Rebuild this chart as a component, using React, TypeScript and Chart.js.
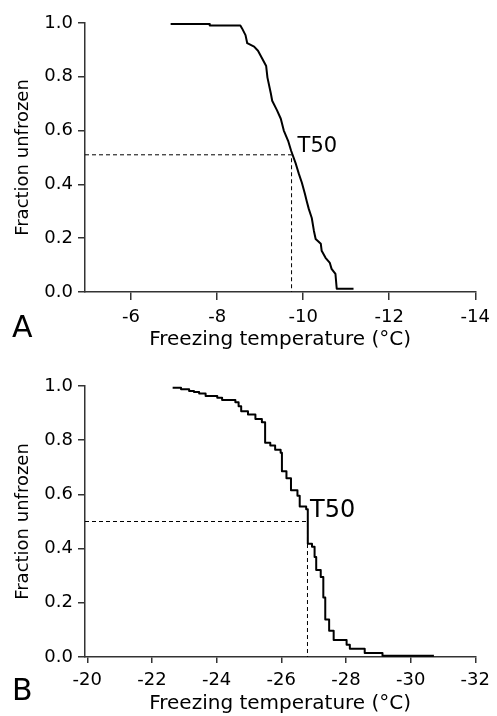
import React, { useEffect, useRef } from "react";
import { Chart, registerables } from "chart.js";

Chart.register(...registerables);

// ---- Data ----
const yTicks = [0, 0.2, 0.4, 0.6, 0.8, 1.0];

// Panel A
const xTicksA = [-6, -8, -10, -12, -14];
const tempA = [
  -6.92, -7.82, -7.83, -8.54, -8.58, -8.66, -8.70, -8.86, -8.95, -9.05, -9.14, -9.17,
  -9.25, -9.28, -9.39, -9.48, -9.55, -9.65, -9.72, -9.83, -9.90, -9.97, -10.04, -10.08,
  -10.13, -10.20, -10.25, -10.29, -10.41, -10.43, -10.52, -10.62, -10.66, -10.75, -10.78, -11.17,
];
const fracA = [
  0.996, 0.996, 0.991, 0.991, 0.98, 0.955, 0.925, 0.912, 0.897, 0.867, 0.84, 0.797,
  0.737, 0.711, 0.676, 0.644, 0.6, 0.562, 0.525, 0.476, 0.439, 0.406, 0.365, 0.339,
  0.309, 0.275, 0.227, 0.197, 0.179, 0.153, 0.127, 0.108, 0.086, 0.067, 0.012, 0.012,
];
const t50TempA = -9.73;
const t50FracA = 0.51;

// Panel B (step positions: temperature where the fraction drops, new level)
const xTicksB = [-20, -22, -24, -26, -28, -30, -32];
const tempB = [
  -22.64, -22.9, -23.15, -23.3, -23.46, -23.66, -24.02, -24.17, -24.58, -24.68, -24.76,
  -24.97, -25.2, -25.4, -25.5, -25.66, -25.81, -25.98, -26.02, -26.16, -26.3, -26.5,
  -26.57, -26.77, -26.82, -26.95, -27.03, -27.08, -27.22, -27.3, -27.36, -27.48, -27.62,
  -28.02, -28.12, -28.58, -29.13, -30.72,
];
const fracB = [
  0.994, 0.988, 0.982, 0.978, 0.972, 0.963, 0.957, 0.948, 0.94, 0.925, 0.907,
  0.895, 0.878, 0.866, 0.791, 0.78, 0.765, 0.754, 0.685, 0.66, 0.615, 0.595,
  0.555, 0.545, 0.418, 0.407, 0.369, 0.321, 0.295, 0.22, 0.138, 0.097, 0.063,
  0.045, 0.03, 0.015, 0.005, 0.005,
];
const t50TempB = -26.81;
const t50FracB = 0.5;

const FONT = "'DejaVu Sans', sans-serif";
const CW = 497;
const CH = 362;

type PanelProps = {
  top: number;
  padTop: number;
  temps: number[];
  fracs: number[];
  stepped: boolean;
  xMin: number;
  xMax: number;
  xTicks: number[];
  t50: number;
  t50Frac: number;
  t50Size: number;
  t50Dx: number;
  t50Dy: number;
  letter: string;
  letterY: number;
  xTickLen: number;
  xTickPad: number;
  xTitlePad: number;
};

function Panel(p: PanelProps) {
  const ref = useRef<HTMLCanvasElement>(null);
  useEffect(() => {
    const canvas = ref.current!;
    const annot = {
      id: "annot" + p.letter,
      afterDraw(chart: any) {
        const ctx = chart.ctx;
        const xs = chart.scales.x;
        const ys = chart.scales.y;
        ctx.save();
        ctx.fillStyle = "#000";
        ctx.textBaseline = "alphabetic";
        ctx.textAlign = "left";
        ctx.font = `${p.t50Size}px ${FONT}`;
        ctx.fillText(
          "T50",
          xs.getPixelForValue(p.t50) + p.t50Dx,
          ys.getPixelForValue(p.t50Frac) + p.t50Dy
        );
        ctx.font = `30px ${FONT}`;
        ctx.fillText(p.letter, 12, p.letterY);
        ctx.restore();
      },
    };
    const chart = new Chart(canvas, {
      type: "line",
      data: {
        datasets: [
          {
            data: p.temps.map((t, i) => ({ x: t, y: p.fracs[i] })),
            borderColor: "#000",
            borderWidth: 2,
            borderJoinStyle: "round",
            pointRadius: 0,
            stepped: p.stepped ? "before" : false,
            tension: 0,
            clip: false,
            fill: false,
          } as any,
          {
            data: [
              { x: p.xMax, y: p.t50Frac },
              { x: p.t50, y: p.t50Frac },
              { x: p.t50, y: 0 },
            ],
            borderColor: "#000",
            borderWidth: 1,
            borderDash: [4, 3],
            pointRadius: 0,
            fill: false,
            clip: false,
          } as any,
        ],
      },
      options: {
        animation: false,
        responsive: false,
        maintainAspectRatio: false,
        events: [],
        layout: { padding: { top: p.padTop, right: 19, left: 0, bottom: 0 } },
        plugins: { legend: { display: false }, tooltip: { enabled: false } },
        scales: {
          x: {
            type: "linear",
            reverse: true,
            min: p.xMin,
            max: p.xMax,
            afterFit: (s: any) => {
              s.height = CH - 292;
            },
            afterBuildTicks: (s: any) => {
              s.ticks = p.xTicks.map((v) => ({ value: v }));
            },
            ticks: {
              font: { family: FONT, size: 18 },
              color: "#000",
              padding: p.xTickPad,
              maxRotation: 0,
              autoSkip: false,
              callback: (v: any) => String(v),
            },
            grid: {
              display: true,
              drawOnChartArea: false,
              drawTicks: true,
              tickLength: p.xTickLen,
              color: "#333",
              lineWidth: 1.5,
            },
            border: { display: true, color: "#333", width: 1.5 },
            title: {
              display: true,
              text: "Freezing temperature (°C)",
              font: { family: FONT, size: 20, lineHeight: 1 },
              color: "#000",
              padding: { top: 0, bottom: p.xTitlePad },
            },
          },
          y: {
            type: "linear",
            min: 0,
            max: 1,
            afterFit: (s: any) => {
              s.width = 85;
            },
            afterBuildTicks: (s: any) => {
              s.ticks = yTicks.map((v) => ({ value: v }));
            },
            ticks: {
              font: { family: FONT, size: 18 },
              color: "#000",
              padding: 5,
              autoSkip: false,
              callback: (v: any) => Number(v).toFixed(1),
            },
            grid: {
              display: true,
              drawOnChartArea: false,
              drawTicks: true,
              tickLength: 7,
              color: "#333",
              lineWidth: 1.5,
            },
            border: { display: true, color: "#333", width: 1.5 },
            title: {
              display: true,
              text: "Fraction unfrozen",
              font: { family: FONT, size: 18, lineHeight: 1 },
              color: "#000",
              padding: { top: 14, bottom: 0 },
            },
          },
        },
      } as any,
      plugins: [annot],
    });
    return () => chart.destroy();
  }, []);
  return (
    <canvas
      ref={ref}
      width={CW}
      height={CH}
      style={{ position: "absolute", left: 0, top: p.top, width: CW, height: CH }}
    />
  );
}

export default function App() {
  return (
    <div
      style={{
        position: "absolute",
        left: 0,
        top: 0,
        width: CW,
        height: 716,
        overflow: "hidden",
        background: "#fff",
      }}
    >
      <Panel
        top={0}
        padTop={23}
        temps={tempA}
        fracs={fracA}
        stepped={false}
        xMin={-14}
        xMax={-4.93}
        xTicks={xTicksA}
        t50={t50TempA}
        t50Frac={t50FracA}
        t50Size={21}
        t50Dx={6}
        t50Dy={-3}
        letter="A"
        letterY={337}
        xTickLen={8}
        xTickPad={7}
        xTitlePad={12}
      />
      <Panel
        top={365}
        padTop={21}
        temps={tempB}
        fracs={fracB}
        stepped={true}
        xMin={-32}
        xMax={-19.93}
        xTicks={xTicksB}
        t50={t50TempB}
        t50Frac={t50FracB}
        t50Size={24}
        t50Dx={2.5}
        t50Dy={-5}
        letter="B"
        letterY={335}
        xTickLen={6}
        xTickPad={7}
        xTitlePad={13}
      />
    </div>
  );
}
